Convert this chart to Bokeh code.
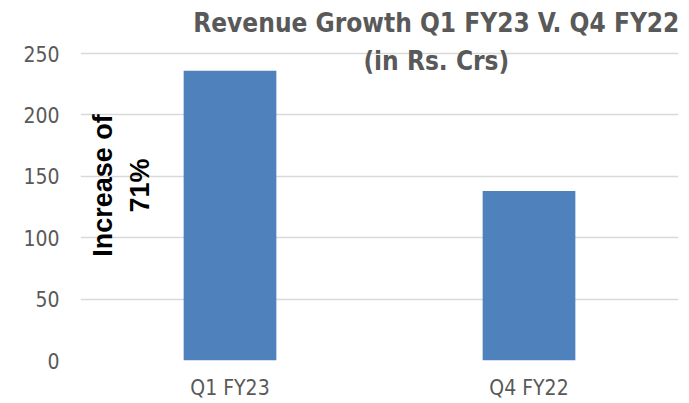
from math import pi
from bokeh.plotting import figure
from bokeh.models import ColumnDataSource, Range1d, FactorRange, Label
from bokeh.embed import file_html
from bokeh.resources import INLINE

categories = ["Q1 FY23", "Q4 FY22"]
revenue = [236, 138]
y_ticks = [0, 50, 100, 150, 200, 250]

NARROW = "DejaVu Sans Condensed"
GRAY = "#595959"

source = ColumnDataSource(dict(cat=categories, val=revenue))

p = figure(width=689, height=403, output_backend="svg", toolbar_location=None,
           x_range=FactorRange(*categories, range_padding=0),
           y_range=Range1d(0, 293.2),
           min_border_left=80, min_border_right=11, min_border_top=0, min_border_bottom=43)
p.outline_line_color = None
p.background_fill_color = "white"
p.border_fill_color = "white"

p.vbar(x="cat", top="val", width=0.31, source=source,
       fill_color="#4F81BD", line_color=None)

p.xgrid.grid_line_color = None
p.ygrid.grid_line_color = "#d9d9d9"
p.ygrid.grid_line_width = 1.3
p.yaxis.ticker = y_ticks

for ax in (p.xaxis[0], p.yaxis[0]):
    ax.axis_line_color = None
    ax.major_tick_line_color = None
    ax.minor_tick_line_color = None
    ax.major_tick_out = 0
    ax.major_tick_in = 0
    ax.minor_tick_out = 0
    ax.minor_tick_in = 0
    ax.major_label_text_font = NARROW
    ax.major_label_text_font_size = "21px"
    ax.major_label_text_color = GRAY
p.yaxis.major_label_standoff = 21
p.xaxis.major_label_standoff = 15

p.add_layout(Label(x=1.19, y=274.5, text="Revenue Growth Q1 FY23 V. Q4 FY22",
                   text_align="center", text_baseline="middle",
                   text_font=NARROW, text_font_style="bold",
                   text_font_size="26px", text_color=GRAY))
p.add_layout(Label(x=1.19, y=244, text="(in Rs. Crs)",
                   text_align="center", text_baseline="middle",
                   text_font=NARROW, text_font_style="bold",
                   text_font_size="26px", text_color=GRAY))

p.add_layout(Label(x=0.074, y=142.5, text="Increase of", angle=pi / 2,
                   text_align="center", text_baseline="middle",
                   text_font="Liberation Sans", text_font_style="bold",
                   text_font_size="27px", text_color="black"))
p.add_layout(Label(x=0.2, y=142.5, text="71%", angle=pi / 2,
                   text_align="center", text_baseline="middle",
                   text_font="Liberation Sans", text_font_style="bold",
                   text_font_size="27px", text_color="black"))

open("out.html", "w").write(file_html(p, INLINE))
